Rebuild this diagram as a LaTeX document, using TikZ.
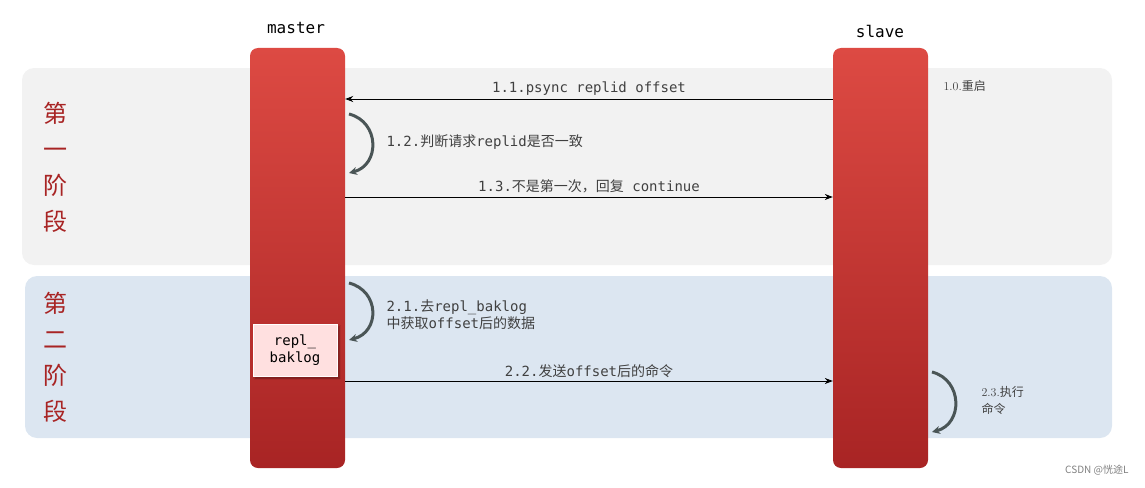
\documentclass[tikz,border=0pt]{standalone}
\usepackage{fontspec}
\setmonofont{DejaVu Sans Mono}
\newfontfamily\cjk{Noto Sans CJK SC}
\usetikzlibrary{arrows.meta,shadows.blur}
\definecolor{phaseone}{HTML}{F2F2F2}
\definecolor{phasetwo}{HTML}{DCE6F1}
\definecolor{bartop}{HTML}{DD4A43}
\definecolor{barbot}{HTML}{A82424}
\definecolor{txtgray}{HTML}{404040}
\definecolor{loopgray}{HTML}{4A5556}
\newcommand{\zh}[1]{{\cjk #1}}
\tikzset{
  phase/.style={rounded corners=12pt, draw=none},
  lifeline/.style={rounded corners=8pt, top color=bartop, bottom color=barbot, draw=none,
    minimum width=95pt, minimum height=420pt, inner sep=0pt},
  msg/.style={-{Stealth[length=8pt,width=6pt]}, line width=0.8pt, black},
  lbl/.style={font=\ttfamily\fontsize{14}{17}\selectfont, text=txtgray},
  selfloop/.style={-{Stealth[length=8pt,width=8pt]}, line width=3pt, loopgray},
  stagetxt/.style={font=\cjk\fontsize{24}{36}\selectfont, text=barbot, align=center}
}
\begin{document}
\begin{tikzpicture}[x=1pt, y=-1pt]
  \useasboundingbox (0,0) rectangle (1145,487);
  \fill[phase, phaseone] (22,68) rectangle (1112,265); % stage one
  \fill[phase, phasetwo] (25,276) rectangle (1112,438); % stage two
  \node[stagetxt] (stage1) at (55,167) {第\\一\\阶\\段};
  \node[stagetxt] (stage2) at (55,357) {第\\二\\阶\\段};
  \node[lifeline] (master) at (297.5,258) {};
  \node[lifeline] (slave) at (880.5,258) {};
  \node[font=\ttfamily\fontsize{16}{19}\selectfont] (mtitle) at (296,28) {master};
  \node[font=\ttfamily\fontsize{16}{19}\selectfont] (stitle) at (880,31) {slave};
  \node[draw=white, line width=1pt, fill=red!12, blur shadow={shadow blur steps=6},
        minimum width=84pt, minimum height=52pt, align=center, lbl, text=black] (baklog) at (295,350) {repl\_\\baklog};
  % 1.x
  \coordinate (y11) at (0,99);
  \coordinate (y13) at (0,197);
  \coordinate (y22) at (0,381);
  \draw[msg] (slave.west |- y11) -- node[above, lbl] {1.1.psync replid offset} (master.east |- y11);
  \node[lbl, anchor=west, font=\fontsize{12}{14}\selectfont] (restart) at (940,86) {1.0.\zh{重启}};
  \draw[selfloop] (349,114) .. controls (380,122) and (380,165) .. (349,173);
  \node[lbl, anchor=west] (judge) at (383,142) {1.2.\zh{判断请求}replid\zh{是否一致}};
  \draw[msg] (master.east |- y13) -- node[above, lbl] {1.3.\zh{不是第一次，回复} continue} (slave.west |- y13);
  % 2.x
  \draw[selfloop] (349,283) .. controls (380,291) and (380,332) .. (349,340);
  \node[lbl, anchor=west, align=left] (fetch) at (383,315) {2.1.\zh{去}repl\_baklog\\\zh{中获取}offset\zh{后的数据}};
  \draw[msg] (master.east |- y22) -- node[above, lbl] {2.2.\zh{发送}offset\zh{后的命令}} (slave.west |- y22);
  \draw[selfloop] (932,372) .. controls (963,380) and (963,424) .. (932,432);
  \node[lbl, anchor=west, align=left, font=\fontsize{12}{17}\selectfont] (exec) at (978,400) {2.3.\zh{执行}\\\zh{命令}};
  \node[font=\cjk\fontsize{10}{12}\selectfont, text=gray, anchor=east] (mark) at (1132,470) {CSDN @\zh{恍途}L};
\end{tikzpicture}
\end{document}
